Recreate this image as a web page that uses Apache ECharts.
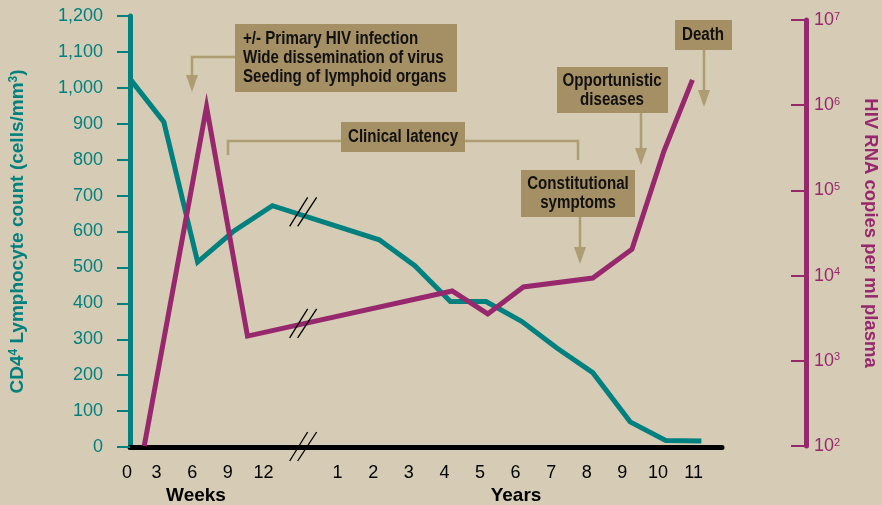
<!DOCTYPE html>
<html>
<head>
<meta charset="utf-8">
<script src="https://cdn.jsdelivr.net/npm/echarts@6/dist/echarts.min.js"></script>
<style>
html,body{margin:0;padding:0;background:#d6ccb5;}
#c{width:882px;height:505px;}
</style>
</head>
<body>
<div id="c"></div>
<script>
// Tick labels of the x axis (position index -> label); weeks then years after the break
const xLabels = ['0','3','6','9','12','','1','2','3','4','5','6','7','8','9','10','11'];
const xLabelKind = ['z','w','w','w','w','','y','y','y','y','y','y','y','y','y','y','y'];
// CD4 lymphocyte count (cells/mm3), positions on the x index scale
const cd4X = [0, 0.95, 1.9, 2.9, 4, 7, 8, 9, 10, 11, 12, 13, 14.05, 15.05, 16.05];
const cd4Values = [1025, 905, 515, 600, 672, 577, 505, 405, 405, 350, 275, 207, 70, 18, 17];
// HIV RNA copies per ml plasma
const rnaX = [0.4, 2.15, 3.3, 9.05, 10.05, 11.05, 13.0, 14.1, 15.0, 15.8];
const rnaValues = [100, 960000, 1950, 6600, 3550, 7350, 9350, 20400, 290000, 1980000];
// Axis ranges
const cd4Min = 0, cd4Max = 1200, cd4Step = 100;
const rnaMin = 100, rnaMax = 10000000;

const TEAL = '#00807e';
const MAG = '#97286e';
const BOX = '#a58f64';
const ARROW = '#ae9d72';
const SANS = "'Liberation Sans',Arial,Helvetica,sans-serif";

const chart = echarts.init(document.getElementById('c'), null, {renderer: 'canvas'});

const xMax = 16.63;
const option = {
  backgroundColor: '#d6ccb5',
  animation: false,
  grid: [
    {left: 130, right: 160, top: 16, bottom: 58, outerBoundsMode: 'none', containLabel: false},
    {left: 130, right: 160, top: 20, bottom: 59, outerBoundsMode: 'none', containLabel: false}
  ],
  xAxis: [
    {
      type: 'value', gridIndex: 0, min: 0, max: xMax, interval: 1,
      axisLine: {onZero: false, lineStyle: {color: '#000', width: 5}},
      axisTick: {show: false}, splitLine: {show: false},
      axisLabel: {
        showMaxLabel: false, margin: 17, color: '#000', fontSize: 18, fontFamily: SANS,
        formatter: function (v) {
          const i = Math.round(v);
          if (Math.abs(v - i) > 1e-6 || !xLabels[i]) return '';
          return '{' + xLabelKind[i] + '|' + xLabels[i] + '}';
        },
        rich: {
          z: {padding: [0, 6, 0, 0], fontSize: 18, color: '#000', fontFamily: SANS},
          w: {padding: [0, 18, 0, 0], fontSize: 18, color: '#000', fontFamily: SANS},
          y: {padding: [0, 12, 0, 0], fontSize: 18, color: '#000', fontFamily: SANS}
        }
      }
    },
    {
      type: 'value', gridIndex: 1, min: 0, max: xMax, show: false
    }
  ],
  yAxis: [
    {
      type: 'value', gridIndex: 0, min: cd4Min, max: cd4Max, interval: cd4Step,
      axisLine: {show: true, onZero: false, lineStyle: {color: TEAL, width: 5}},
      axisTick: {show: true, length: 13, lineStyle: {color: TEAL, width: 2}},
      splitLine: {show: false},
      axisLabel: {
        margin: 27, color: TEAL, fontSize: 18, fontFamily: SANS,
        formatter: function (v) { return v.toLocaleString('en-US'); }
      },
      name: 'CD4{s|4} Lymphocyte count (cells/mm{s|3})',
      nameLocation: 'middle', nameRotate: 90, nameGap: 103,
      nameTextStyle: {
        color: TEAL, fontSize: 19, fontWeight: 'bold', fontFamily: SANS,
        rich: {s: {fontSize: 12, fontWeight: 'bold', color: TEAL, verticalAlign: 'top', fontFamily: SANS}}
      }
    },
    {
      type: 'log', gridIndex: 1, logBase: 10, min: rnaMin, max: rnaMax, position: 'right', offset: 84,
      axisLine: {show: true, onZero: false, lineStyle: {color: MAG, width: 5}},
      axisTick: {show: true, inside: true, length: 15, lineStyle: {color: MAG, width: 2}},
      splitLine: {show: false},
      axisLabel: {
        margin: 8, color: MAG, fontSize: 18, fontFamily: SANS,
        formatter: function (v) { return '10{s|' + Math.round(Math.log10(v)) + '}'; },
        rich: {s: {fontSize: 11, color: MAG, verticalAlign: 'top', fontFamily: SANS}}
      },
      name: 'HIV RNA copies per ml plasma',
      nameLocation: 'middle', nameRotate: -90, nameGap: 55,
      nameTextStyle: {color: MAG, fontSize: 18.5, fontWeight: 'bold', fontFamily: SANS}
    }
  ],
  series: [
    {
      type: 'line', xAxisIndex: 0, yAxisIndex: 0, symbol: 'none',
      lineStyle: {color: TEAL, width: 5, join: 'miter'},
      data: cd4X.map(function (x, i) { return [x, cd4Values[i]]; }), z: 3
    },
    {
      type: 'line', xAxisIndex: 1, yAxisIndex: 1, symbol: 'none',
      lineStyle: {color: MAG, width: 5, join: 'miter'},
      data: rnaX.map(function (x, i) { return [x, rnaValues[i]]; }), z: 4
    }
  ]
};
chart.setOption(option);

// ---- decorations: break marks and annotation boxes ----
function interp(xs, ys, x, log) {
  for (let i = 0; i < xs.length - 1; i++) {
    if (x >= xs[i] && x <= xs[i + 1]) {
      const t = (x - xs[i]) / (xs[i + 1] - xs[i]);
      if (log) return Math.pow(10, Math.log10(ys[i]) + t * (Math.log10(ys[i + 1]) - Math.log10(ys[i])));
      return ys[i] + t * (ys[i + 1] - ys[i]);
    }
  }
  return ys[0];
}
const breakX = 4.85;
const pAxis = chart.convertToPixel({gridIndex: 0}, [breakX, 0]);
const pTeal = chart.convertToPixel({gridIndex: 0}, [breakX, interp(cd4X, cd4Values, breakX, false)]);
const pMag = chart.convertToPixel({gridIndex: 1}, [breakX, interp(rnaX, rnaValues, breakX, true)]);

function breakMark(c) {
  return [
    {type: 'line', shape: {x1: c[0] - 13, y1: c[1] + 14, x2: c[0] + 5, y2: c[1] - 15}, style: {stroke: '#000', lineWidth: 1.3}, z: 20},
    {type: 'line', shape: {x1: c[0] - 5, y1: c[1] + 14, x2: c[0] + 14, y2: c[1] - 15}, style: {stroke: '#000', lineWidth: 1.3}, z: 20}
  ];
}
function box(x, y, w, h) {
  return {type: 'rect', shape: {x: x, y: y, width: w, height: h}, style: {fill: BOX}, z: 10};
}
function label(text, x, y, align) {
  return {type: 'text', z: 11, x: x, y: y, scaleX: 0.84,
    style: {text: text, x: 0, y: 0, fill: '#111', font: 'bold 18px ' + SANS,
      textAlign: align || 'center', textVerticalAlign: 'middle', lineHeight: 19}};
}
function poly(points) {
  return {type: 'polyline', shape: {points: points}, style: {stroke: ARROW, lineWidth: 2.5, fill: null}, z: 9};
}
function head(x, y) {
  return {type: 'polygon', shape: {points: [[x - 6, y - 17], [x + 6, y - 17], [x, y]]}, style: {fill: ARROW}, z: 9};
}

const g = [];
breakMark([pAxis[0], pAxis[1]]).forEach(function (e) { g.push(e); });
breakMark([pTeal[0], pTeal[1] - 3]).forEach(function (e) { g.push(e); });
breakMark([pMag[0], pMag[1]]).forEach(function (e) { g.push(e); });

// Primary infection
g.push(poly([[235, 57], [192, 57], [192, 78]]));
g.push(head(192, 92));
g.push(box(235, 24, 222, 68));
g.push(label('+/- Primary HIV infection\nWide dissemination of virus\nSeeding of lymphoid organs', 243, 58, 'left'));
// Clinical latency
g.push(poly([[228, 155], [228, 141], [578, 141], [578, 160]]));
g.push(box(341, 122, 124, 30));
g.push(label('Clinical latency', 403, 137));
// Constitutional symptoms
g.push(poly([[580, 217], [580, 250]]));
g.push(head(580, 264));
g.push(box(521, 170, 114, 47));
g.push(label('Constitutional\nsymptoms', 578, 194));
// Opportunistic diseases
g.push(poly([[641, 113], [641, 150]]));
g.push(head(641, 165));
g.push(box(557, 67, 111, 46));
g.push(label('Opportunistic\ndiseases', 612, 91));
// Death
g.push(poly([[704, 50], [704, 92]]));
g.push(head(704, 107));
g.push(box(675, 20, 57, 30));
g.push(label('Death', 703, 35));
// Weeks / Years
g.push({type: 'text', z: 11, style: {text: 'Weeks', x: 196, y: 496, fill: '#000', font: 'bold 19px ' + SANS, textAlign: 'center', textVerticalAlign: 'middle'}});
g.push({type: 'text', z: 11, style: {text: 'Years', x: 516, y: 496, fill: '#000', font: 'bold 19px ' + SANS, textAlign: 'center', textVerticalAlign: 'middle'}});

chart.setOption({graphic: g});
</script>
</body>
</html>
